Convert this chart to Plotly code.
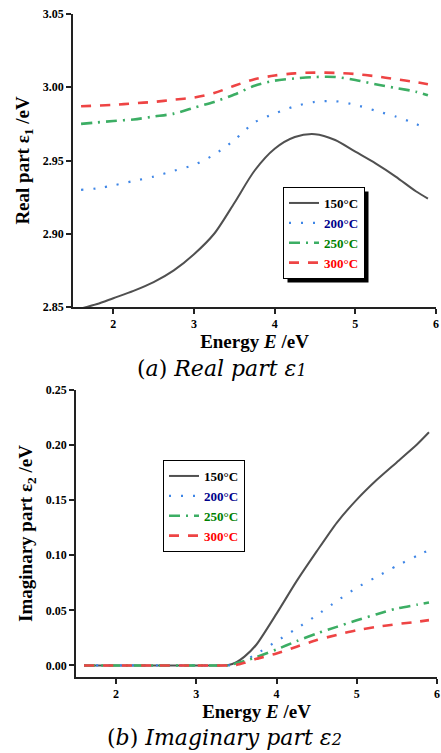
import plotly.graph_objects as go

W, H = 441, 753

# ---------------- data: (a) real part ----------------
energy_real = [1.6, 1.8, 2.0, 2.25, 2.5, 2.75, 3.0, 3.25, 3.5, 3.75, 4.0, 4.25,
               4.5, 4.75, 5.0, 5.25, 5.5, 5.75, 5.9]
real_150 = [2.849, 2.852, 2.856, 2.861, 2.867, 2.875, 2.886, 2.900, 2.921, 2.943,
            2.958, 2.966, 2.968, 2.964, 2.956, 2.948, 2.939, 2.929, 2.924]
real_200 = [2.930, 2.931, 2.933, 2.936, 2.939, 2.943, 2.947, 2.954, 2.964, 2.976,
            2.982, 2.987, 2.990, 2.9905, 2.988, 2.984, 2.980, 2.975, 2.971]
real_250 = [2.975, 2.976, 2.977, 2.978, 2.980, 2.982, 2.986, 2.990, 2.995, 3.001,
            3.0045, 3.006, 3.007, 3.007, 3.005, 3.002, 2.9995, 2.997, 2.9945]
real_300 = [2.987, 2.9875, 2.988, 2.989, 2.990, 2.9915, 2.993, 2.996, 3.001, 3.0055,
            3.008, 3.0095, 3.010, 3.0098, 3.009, 3.0075, 3.0055, 3.0035, 3.002]

# ---------------- data: (b) imaginary part ----------------
energy_imag = [1.6, 2.0, 2.5, 3.0, 3.3, 3.4, 3.5, 3.6, 3.75, 4.0, 4.25, 4.5,
               4.75, 5.0, 5.25, 5.5, 5.75, 5.9]
imag_150 = [0, 0, 0, 0, 0, 0.0003, 0.003, 0.008, 0.019, 0.047, 0.0765, 0.1035,
            0.1295, 0.1505, 0.1685, 0.1845, 0.2005, 0.2116]
imag_200 = [0, 0, 0, 0, 0, 0, 0.001, 0.0045, 0.0105, 0.022, 0.0335, 0.0455,
            0.0584, 0.0706, 0.0805, 0.0905, 0.0995, 0.1047]
imag_250 = [0, 0, 0, 0, 0, 0, 0.002, 0.004, 0.0075, 0.0145, 0.022, 0.029,
            0.035, 0.041, 0.0465, 0.0517, 0.0551, 0.0572]
imag_300 = [0, 0, 0, 0, 0, 0, 0.0005, 0.0024, 0.006, 0.0109, 0.017, 0.023,
            0.0277, 0.032, 0.035, 0.0375, 0.0396, 0.0411]

labels = ["150°C", "200°C", "250°C", "300°C"]
label_colors = ["#000000", "#00008b", "#008000", "#ff0000"]
line_colors = ["#505050", "#3f86e6", "#3cae64", "#ee4444"]
line_dash = ["solid", "2px,10px", "11px,6px,2px,6px", "10px,9px"]
line_width = [2, 2.2, 2.6, 2.6]

FONT = "Liberation Serif"
LEG_FONT = 13

fig = go.Figure()

real_series = [real_150, real_200, real_250, real_300]
imag_series = [imag_150, imag_200, imag_250, imag_300]

for i in range(4):
    fig.add_trace(go.Scatter(
        x=energy_real, y=real_series[i], mode="lines",
        name=f'<span style="color:{label_colors[i]}">{labels[i]}</span>',
        line=dict(color=line_colors[i], dash=line_dash[i], width=line_width[i],
                  shape="spline", smoothing=0.8),
        xaxis="x", yaxis="y", legend="legend"))
for i in range(4):
    fig.add_trace(go.Scatter(
        x=energy_imag, y=imag_series[i], mode="lines",
        name=f'<span style="color:{label_colors[i]}">{labels[i]}</span>',
        line=dict(color=line_colors[i], dash=line_dash[i], width=line_width[i],
                  shape="spline", smoothing=0.6),
        xaxis="x2", yaxis="y2", legend="legend2"))


def px(x):
    return x / W


def py(y):
    return 1 - y / H


axis_common = dict(
    automargin=False,
    showline=True, linecolor="#222222", linewidth=1.5,
    ticks="outside", ticklen=5, tickwidth=1.5, tickcolor="#222222",
    showgrid=False, zeroline=False, mirror=False,
    tickfont=dict(family=FONT, size=12, color="#000000", weight="bold"),
)
title_font = dict(family=FONT, size=19, color="#000000", weight="bold")

main_leg = dict(xanchor="left", yanchor="top", bgcolor="white",
                bordercolor="#000000", borderwidth=1,
                font=dict(family=FONT, size=LEG_FONT, weight="bold"),
                itemwidth=30, tracegroupgap=0)

fig.update_layout(
    template="none",
    width=W, height=H,
    margin=dict(l=0, r=0, t=0, b=0, pad=0),
    paper_bgcolor="white", plot_bgcolor="white",
    showlegend=True,
    xaxis=dict(domain=[px(73), px(436)], range=[1.5, 6], anchor="y",
               tickvals=[2, 3, 4, 5, 6],
               title=dict(text="Energy <i>E</i> /eV", font=title_font, standoff=2),
               **axis_common),
    yaxis=dict(domain=[py(307), py(14)], range=[2.85, 3.05], anchor="x",
               tickvals=[2.85, 2.90, 2.95, 3.00, 3.05], tickformat=".2f",
               title=dict(text="Real part ε<sub>1</sub> /eV", font=title_font, standoff=8),
               **axis_common),
    xaxis2=dict(domain=[px(76), px(437)], range=[1.5, 6], anchor="y2",
                tickvals=[2, 3, 4, 5, 6],
                title=dict(text="Energy <i>E</i> /eV", font=title_font, standoff=2),
                **axis_common),
    yaxis2=dict(domain=[py(677), py(390)], range=[-0.0105, 0.25], anchor="x2",
                tickvals=[0, 0.05, 0.10, 0.15, 0.20, 0.25], tickformat=".2f",
                title=dict(text="Imaginary part ε<sub>2</sub> /eV", font=title_font, standoff=8),
                **axis_common),
    legend=dict(x=px(283), y=py(187), **main_leg),
    legend2=dict(x=px(163), y=py(460), **main_leg),
)

cap_font = dict(family="DejaVu Serif", size=22, color="#000000")
fig.add_annotation(xref="paper", yref="paper", x=px(222), y=py(368),
                   xanchor="center", yanchor="middle", showarrow=False,
                   text='(<i>a</i>) <i>Real part ε</i><span style="font-size:16px"><i>1</i></span>',
                   font=cap_font)
fig.add_annotation(xref="paper", yref="paper", x=px(224), y=py(737),
                   xanchor="center", yanchor="middle", showarrow=False,
                   text='(<i>b</i>) <i>Imaginary part ε</i><span style="font-size:16px"><i>2</i></span>',
                   font=cap_font)

# page margin reset + drop shadow behind each legend box (same size as the box)
post_js = """
document.body.style.margin='0';document.body.style.padding='0';
document.body.style.overflow='hidden';
var gd = document.getElementById('{plot_id}');
gd.querySelectorAll('g.legend').forEach(function(g){
  if (g.querySelector('rect.legshadow')) return;
  var bg = g.querySelector('rect.bg');
  if (!bg) return;
  var r = document.createElementNS('http://www.w3.org/2000/svg', 'rect');
  r.setAttribute('class', 'legshadow');
  r.setAttribute('x', 4 + (parseFloat(bg.getAttribute('x')) || 0));
  r.setAttribute('y', 4 + (parseFloat(bg.getAttribute('y')) || 0));
  r.setAttribute('width', bg.getAttribute('width'));
  r.setAttribute('height', bg.getAttribute('height'));
  r.setAttribute('fill', 'black');
  g.insertBefore(r, g.firstChild);
});
"""

fig.write_html("out.html", config={"displayModeBar": False}, post_script=post_js)
